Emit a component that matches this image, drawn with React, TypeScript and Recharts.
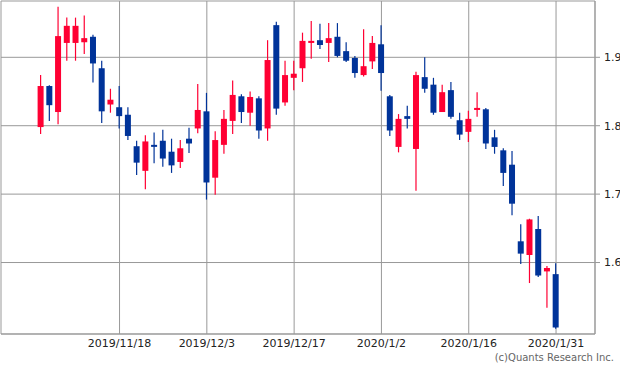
import { ComposedChart, Bar, XAxis, YAxis, CartesianGrid } from "recharts";

// daily candles, oldest first
const opens = [
  1.798, 1.858, 1.82, 1.921, 1.921, 1.922, 1.93, 1.884, 1.831, 1.827,
  1.816, 1.77, 1.734, 1.772, 1.778, 1.762, 1.747, 1.781, 1.796, 1.821,
  1.724, 1.772, 1.807, 1.843, 1.819, 1.84, 1.796, 1.947, 1.834, 1.87,
  1.884, 1.921, 1.925, 1.921, 1.93, 1.909, 1.899, 1.874, 1.894, 1.919,
  1.843, 1.769, 1.814, 1.766, 1.871, 1.86, 1.82, 1.852, 1.808, 1.791,
  1.823, 1.824, 1.783, 1.764, 1.743, 1.631, 1.611, 1.649, 1.587, 1.583,
];
const highs = [
  1.874, 1.859, 1.974, 1.958, 1.958, 1.961, 1.933, 1.895, 1.854, 1.858,
  1.827, 1.778, 1.786, 1.79, 1.794, 1.781, 1.779, 1.797, 1.861, 1.848,
  1.792, 1.823, 1.866, 1.846, 1.85, 1.843, 1.925, 1.952, 1.895, 1.895,
  1.936, 1.953, 1.949, 1.95, 1.95, 1.922, 1.902, 1.941, 1.931, 1.947,
  1.845, 1.817, 1.829, 1.879, 1.9, 1.87, 1.86, 1.864, 1.819, 1.822,
  1.849, 1.826, 1.794, 1.767, 1.763, 1.656, 1.664, 1.668, 1.595, 1.599,
];
const lows = [
  1.788, 1.807, 1.802, 1.895, 1.895, 1.905, 1.863, 1.804, 1.819, 1.796,
  1.779, 1.728, 1.707, 1.745, 1.74, 1.731, 1.738, 1.76, 1.789, 1.692,
  1.699, 1.759, 1.788, 1.804, 1.8, 1.781, 1.778, 1.816, 1.829, 1.852,
  1.864, 1.898, 1.912, 1.893, 1.9, 1.893, 1.87, 1.872, 1.883, 1.851,
  1.785, 1.761, 1.796, 1.705, 1.848, 1.816, 1.82, 1.81, 1.779, 1.776,
  1.813, 1.766, 1.759, 1.712, 1.669, 1.598, 1.57, 1.579, 1.534, 1.503,
];
const closes = [
  1.858, 1.83, 1.931, 1.946, 1.946, 1.928, 1.891, 1.821, 1.838, 1.814,
  1.785, 1.746, 1.777, 1.771, 1.752, 1.742, 1.767, 1.774, 1.823, 1.717,
  1.779, 1.81, 1.845, 1.82, 1.842, 1.793, 1.896, 1.825, 1.874, 1.876,
  1.924, 1.924, 1.918, 1.928, 1.902, 1.895, 1.877, 1.887, 1.921, 1.877,
  1.793, 1.81, 1.81, 1.874, 1.854, 1.819, 1.849, 1.813, 1.787, 1.81,
  1.826, 1.774, 1.769, 1.731, 1.686, 1.613, 1.663, 1.581, 1.592, 1.505,
];

const tickIndexes = [9, 19, 29, 39, 49, 59];
const tickLabels = ["2019/11/18", "2019/12/3", "2019/12/17", "2020/1/2", "2020/1/16", "2020/1/31"];
const priceTicks = [1.6, 1.7, 1.8, 1.9];

const UP = "#ff0033";
const DOWN = "#003399";
const GRID = "#999999";
const FONT = "DejaVu Sans";

const data = opens.map((o, i) => ({
  i,
  open: o,
  high: highs[i],
  low: lows[i],
  close: closes[i],
}));

const Candle = (props: any) => {
  const { x, y, width, height, payload } = props;
  if (!payload) return null;
  const { open, close, high, low } = payload;
  const top = Math.min(y, y + height);
  const h = Math.abs(height);
  const span = high - low || 1;
  const py = (v: number) => top + ((high - v) / span) * h;
  const color = close >= open ? UP : DOWN;
  const cx = x + width / 2;
  const bodyTop = py(Math.max(open, close));
  const bodyH = Math.max(py(Math.min(open, close)) - bodyTop, 2);
  return (
    <g>
      <line x1={cx} x2={cx} y1={top} y2={top + h} stroke={color} strokeWidth={1.2} />
      <rect x={x} y={bodyTop} width={width} height={bodyH} fill={color} />
    </g>
  );
};

export default function App() {
  return (
    <div style={{ position: "absolute", left: 0, top: 0, width: 620, height: 376, fontFamily: FONT }}>
      <ComposedChart width={620} height={376} data={data} margin={{ top: 1, right: 0, bottom: 0, left: 1 }}>
        <CartesianGrid stroke={GRID} strokeWidth={1} />
        <XAxis
          dataKey="i"
          ticks={tickIndexes}
          tickFormatter={(v: number) => tickLabels[tickIndexes.indexOf(v)] ?? ""}
          interval={0}
          padding={{ left: 35.6, right: 34.6 }}
          height={42}
          tickLine={false}
          tickSize={0}
          tickMargin={5}
          axisLine={{ stroke: GRID }}
          tick={{ fontSize: 11, fill: "#222", fontFamily: FONT }}
        />
        <XAxis xAxisId="top" dataKey="i" orientation="top" height={0} tick={false} tickLine={false} axisLine={{ stroke: GRID }} />
        <YAxis
          orientation="right"
          domain={[1.4955, 1.9823]}
          ticks={priceTicks}
          allowDataOverflow
          width={25}
          tickSize={5}
          tickMargin={4}
          tickLine={{ stroke: GRID }}
          axisLine={{ stroke: GRID }}
          tickFormatter={(v: number) => v.toFixed(1)}
          tick={{ fontSize: 11, fill: "#222", fontFamily: FONT }}
        />
        <YAxis yAxisId="left" orientation="left" width={0} tick={false} tickLine={false} axisLine={{ stroke: GRID }} />
        <Bar
          dataKey={(d: any) => [d.low, d.high]}
          barSize={6}
          shape={<Candle />}
          isAnimationActive={false}
        />
      </ComposedChart>
      <div
        style={{
          position: "absolute",
          right: 6,
          top: 351,
          fontSize: 10,
          color: "#666",
          fontFamily: FONT,
          lineHeight: "13px",
          whiteSpace: "nowrap",
        }}
      >
        (c)Quants Research Inc.
      </div>
    </div>
  );
}
